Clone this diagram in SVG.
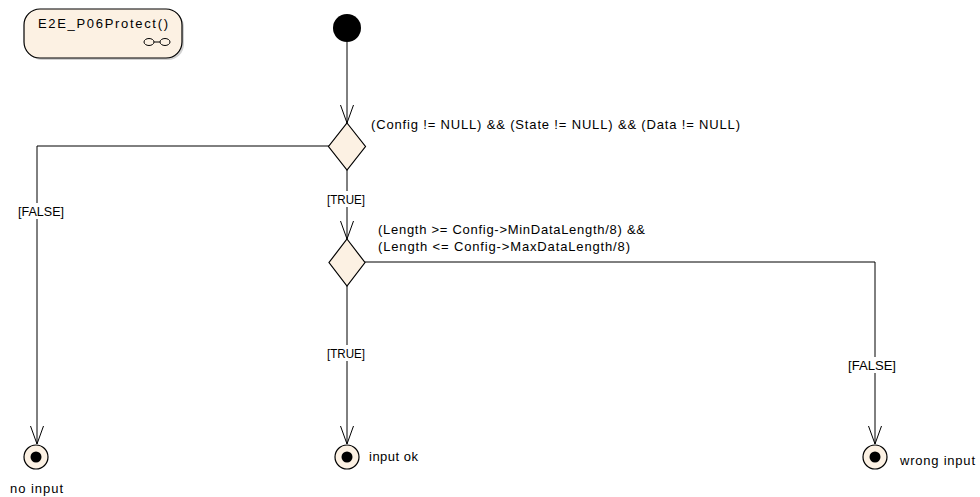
<svg xmlns="http://www.w3.org/2000/svg" width="980" height="497" viewBox="0 0 980 497">
<defs>
<style>
.t{font-family:"Liberation Sans",Arial,sans-serif;font-size:13px;fill:#000}
.ln{fill:none;stroke:#000;stroke-width:1}
.nd{fill:#FCF1E3;stroke:#000;stroke-width:1.2}
.lb{fill:#fff}
</style>
<marker id="ah" markerWidth="20" markerHeight="14" refX="18" refY="7" orient="auto" markerUnits="userSpaceOnUse">
<path d="M0,0.5 L18,7 L0,13.5" fill="none" stroke="#000" stroke-width="1"/>
</marker>
</defs>
<rect width="980" height="497" fill="#fff"/>
<g id="connectors">
<path class="ln" d="M347,42 V123" marker-end="url(#ah)"/>
<path class="ln" d="M347,170 V239" marker-end="url(#ah)"/>
<path class="ln" d="M329,146 H37 V444" marker-end="url(#ah)"/>
<path class="ln" d="M347,286 V444" marker-end="url(#ah)"/>
<path class="ln" d="M365,262 H875 V444" marker-end="url(#ah)"/>
<rect class="lb" x="326" y="191" width="40" height="16"/>
<text class="t" x="327" y="204" textLength="38" lengthAdjust="spacingAndGlyphs">[TRUE]</text>
<rect class="lb" x="17" y="203" width="48" height="16"/>
<text class="t" x="18" y="216" textLength="46" lengthAdjust="spacingAndGlyphs">[FALSE]</text>
<rect class="lb" x="326" y="345" width="40" height="16"/>
<text class="t" x="327" y="358" textLength="38" lengthAdjust="spacingAndGlyphs">[TRUE]</text>
<rect class="lb" x="847" y="357" width="50" height="16"/>
<text class="t" x="848" y="370" textLength="48" lengthAdjust="spacingAndGlyphs">[FALSE]</text>
<text class="t" x="371" y="129" textLength="369" lengthAdjust="spacing">(Config != NULL) &amp;&amp;  (State != NULL) &amp;&amp; (Data != NULL)</text>
<text class="t" x="378" y="234" textLength="267" lengthAdjust="spacing">(Length &gt;= Config-&gt;MinDataLength/8) &amp;&amp;</text>
<text class="t" x="378" y="251" textLength="252" lengthAdjust="spacing">(Length &lt;= Config-&gt;MaxDataLength/8)</text>
</g>
<g id="activity">
<rect x="26" y="11" width="158" height="49" rx="16" fill="#999" opacity="0.45"/>
<rect class="nd" x="24" y="9" width="158" height="49" rx="16"/>
<text class="t" x="38" y="28" textLength="130" lengthAdjust="spacing">E2E_P06Protect()</text>
<ellipse cx="149" cy="42" rx="5" ry="3.5" fill="none" stroke="#000"/>
<ellipse cx="165" cy="42" rx="5" ry="3.5" fill="none" stroke="#000"/>
<line x1="154" y1="42" x2="160" y2="42" stroke="#000"/>
</g>
<g id="initial"><circle cx="347" cy="28" r="14" fill="#000"/></g>
<g id="decision1"><path class="nd" d="M347,123 L365.5,146.5 L347,170 L328.5,146.5 Z"/></g>
<g id="decision2"><path class="nd" d="M347,239 L365,262.5 L347,286 L329,262.5 Z"/></g>
<g id="final-noinput"><circle class="nd" cx="36" cy="457" r="12"/><circle cx="36" cy="457" r="5.5" fill="#000"/><text class="t" x="10" y="493" textLength="53" lengthAdjust="spacing">no input</text></g>
<g id="final-inputok"><circle class="nd" cx="347" cy="457" r="12"/><circle cx="347" cy="457" r="5.5" fill="#000"/><text class="t" x="369" y="461" textLength="49" lengthAdjust="spacing">input ok</text></g>
<g id="final-wronginput"><circle class="nd" cx="875" cy="457" r="12"/><circle cx="875" cy="457" r="5.5" fill="#000"/><text class="t" x="900" y="465" textLength="75" lengthAdjust="spacing">wrong input</text></g>
</svg>
